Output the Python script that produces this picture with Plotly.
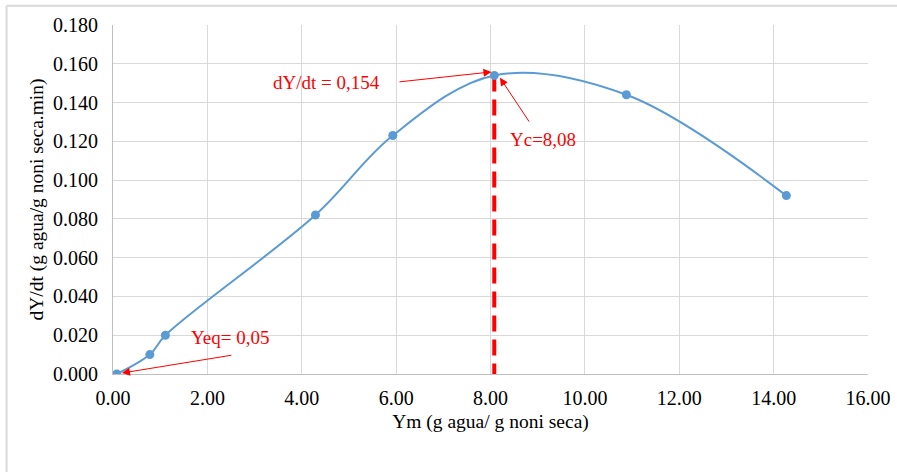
import plotly.graph_objects as go

ym = [0.08, 0.78, 1.11, 4.29, 5.93, 8.08, 10.88, 14.27]
dydt = [0.000, 0.010, 0.020, 0.082, 0.123, 0.154, 0.144, 0.092]
yc = 8.08
yc_rate = 0.154
x_ticks = [0, 2, 4, 6, 8, 10, 12, 14, 16]
y_ticks = [0, 0.02, 0.04, 0.06, 0.08, 0.10, 0.12, 0.14, 0.16, 0.18]

blue = "#5B9BD5"
red = "#FF0000"
font = "'Liberation Serif', 'Times New Roman', Times, serif"

fig = go.Figure()
fig.add_trace(go.Scatter(x=[yc, yc], y=[yc_rate, 0], mode="lines",
                         line=dict(color=red, width=4, dash="16px,8px"), showlegend=False,
                         hoverinfo="skip"))
fig.add_trace(go.Scatter(x=ym, y=dydt, mode="lines+markers",
                         line=dict(color=blue, width=2, shape="spline", smoothing=1.0),
                         marker=dict(color=blue, size=9), showlegend=False))

texts = [
    dict(x=4.53, y=0.1506, text="dY/dt = 0,154"),
    dict(x=9.11, y=0.1212, text="Yc=8,08"),
    dict(x=2.48, y=0.0186, text="Yeq= 0,05"),
]
for t in texts:
    fig.add_annotation(x=t["x"], y=t["y"], text=t["text"], showarrow=False,
                       font=dict(family=font, size=19, color=red), xref="x", yref="y")

arrows = [
    ((6.04, 0.1506), (8.02, 0.1558)),
    ((8.84, 0.1294), (8.2, 0.1528)),
    ((2.54, 0.0098), (0.19, 0.0005)),
]
for (tx, ty), (hx, hy) in arrows:
    fig.add_annotation(x=hx, y=hy, ax=tx, ay=ty, xref="x", yref="y", axref="x", ayref="y",
                       text="", showarrow=True, arrowhead=2, arrowsize=1.6, arrowwidth=1,
                       arrowcolor=red, standoff=0)

# outer chart frame (top and left edges)
fig.add_shape(type="line", xref="paper", yref="paper", x0=-0.141, x1=1.04, y0=1.055, y1=1.055,
              line=dict(color="#d9d9d9", width=2))
fig.add_shape(type="line", xref="paper", yref="paper", x0=-0.141, x1=-0.141, y0=1.055, y1=-0.3,
              line=dict(color="#d9d9d9", width=2))

fig.update_layout(
    width=897, height=472,
    margin=dict(l=113, r=29, t=25, b=98),
    plot_bgcolor="white", paper_bgcolor="white",
    font=dict(family=font, size=19, color="#000000"),
    xaxis=dict(range=[0, 16], tickvals=x_ticks, ticktext=[f"{v:.2f}" for v in x_ticks],
               showgrid=True, gridcolor="#d9d9d9", gridwidth=1, zeroline=False,
               showline=True, linecolor="#bfbfbf", linewidth=1, automargin=False,
               title=dict(text="Ym (g agua/ g noni seca)", font=dict(family=font, size=19.5), standoff=6),
               tickfont=dict(family=font, size=20), ticks="", ticklabelstandoff=6),
    yaxis=dict(range=[0, 0.18], tickvals=y_ticks, ticktext=[f"{v:.3f}" for v in y_ticks],
               showgrid=True, gridcolor="#d9d9d9", gridwidth=1, zeroline=False,
               showline=True, linecolor="#bfbfbf", linewidth=1, automargin=False,
               title=dict(text="dY/dt (g agua/g noni seca.min)", font=dict(family=font, size=19.5), standoff=4),
               tickfont=dict(family=font, size=20), ticks="", ticklabelstandoff=10),
)

fig.write_html("out.html")
